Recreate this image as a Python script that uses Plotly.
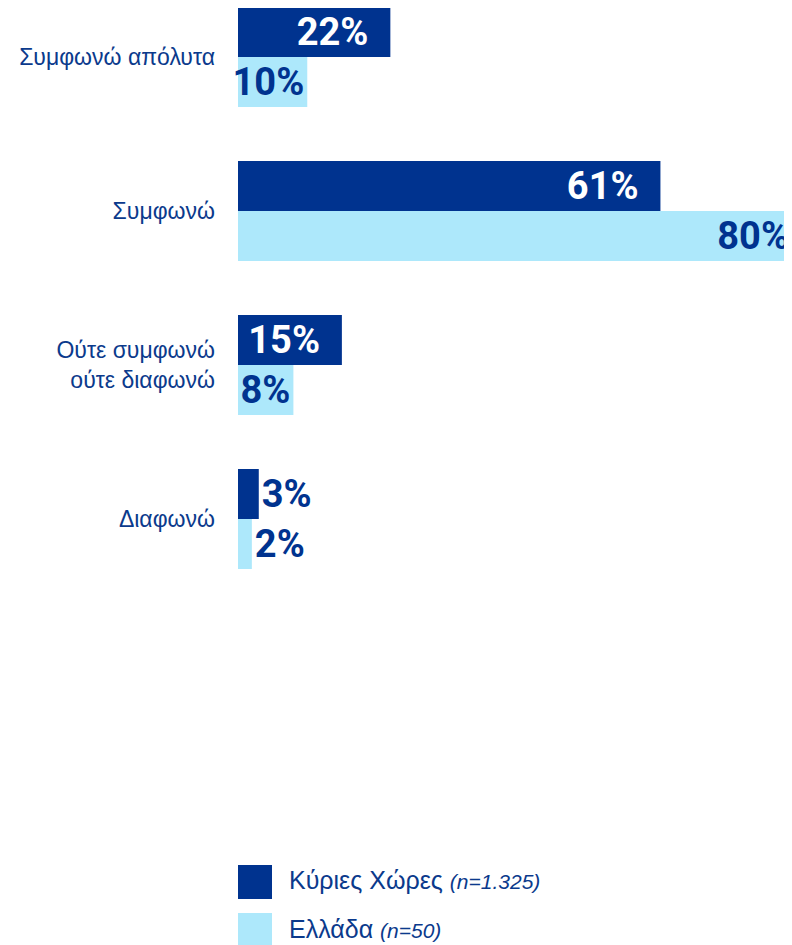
import plotly.graph_objects as go

categories = ["Συμφωνώ απόλυτα", "Συμφωνώ", "Ούτε συμφωνώ<br>ούτε διαφωνώ", "Διαφωνώ"]
main_countries = [22, 61, 15, 3]
greece = [10, 80, 8, 2]
series_names = ["Κύριες Χώρες", "Ελλάδα"]
series_notes = ["(n=1.325)", "(n=50)"]

DARK = "#00338F"
LIGHT = "#ADE8FB"
TEXT = "#0B3A8C"
LABEL_FONT = "Liberation Sans Narrow, Roboto, sans-serif"
BASE_FONT = "Liberation Sans, Arial, sans-serif"

# page is offset by 8px body margin
W, H = 784, 937
L, T, PH = 230, 0, 600
PW = W - L

fig = go.Figure()
fig.add_trace(go.Bar(
    y=categories, x=main_countries, orientation="h", name=series_names[0],
    marker=dict(color=DARK, line=dict(width=0)),
    texttemplate="%{x}%&nbsp;&nbsp;",
    textposition=["inside", "inside", "inside", "outside"],
    insidetextanchor="end", constraintext="none", cliponaxis=False,
    textfont=dict(family=LABEL_FONT, size=38, weight="bold",
                  color=["white", "white", "white", DARK]),
    showlegend=False, hoverinfo="skip",
))
fig.add_trace(go.Bar(
    y=categories, x=greece, orientation="h", name=series_names[1],
    marker=dict(color=LIGHT, line=dict(width=0)),
    texttemplate="%{x}%",
    textposition=["inside", "inside", "inside", "outside"],
    insidetextanchor="end", constraintext="none", cliponaxis=False,
    textfont=dict(family=LABEL_FONT, size=38, weight="bold", color=DARK),
    showlegend=False, hoverinfo="skip",
))

unit = 154.0
top_val = -49.0 / unit
bottom_val = top_val + PH / unit

fig.update_layout(
    width=W, height=H,
    margin=dict(l=L, r=0, t=T, b=H - PH - T, pad=0),
    paper_bgcolor="white", plot_bgcolor="white",
    barmode="group", bargap=54 / 154, bargroupgap=0,
    xaxis=dict(range=[0, 80], visible=False, fixedrange=True),
    yaxis=dict(range=[bottom_val, top_val], showgrid=False, zeroline=False,
               showline=False, ticks="", ticklabelstandoff=22,
               tickfont=dict(family=BASE_FONT, size=23, color=TEXT)),
    font=dict(family=BASE_FONT, color=TEXT),
)

# Legend (manual, large squares); coordinates in figure pixels
def py(px):
    return (PH + T - px) / PH

def pxx(px):
    return (px - L) / PW

legend_rows = [(857, 891, DARK), (905, 941, LIGHT)]
for i, (y0, y1, col) in enumerate(legend_rows):
    fig.add_shape(type="rect", xref="paper", yref="paper",
                  x0=pxx(230), x1=pxx(264), y0=py(min(y1, H)), y1=py(y0),
                  fillcolor=col, line=dict(width=0))
    fig.add_annotation(
        xref="paper", yref="paper", x=pxx(279), y=py((y0 + y1) / 2 - 2),
        xanchor="left", yanchor="middle", showarrow=False,
        text=f"{series_names[i]} <i><span style='font-size:21px'>{series_notes[i]}</span></i>",
        font=dict(family=BASE_FONT, size=25, color=TEXT),
    )

fig.write_html("out.html")
